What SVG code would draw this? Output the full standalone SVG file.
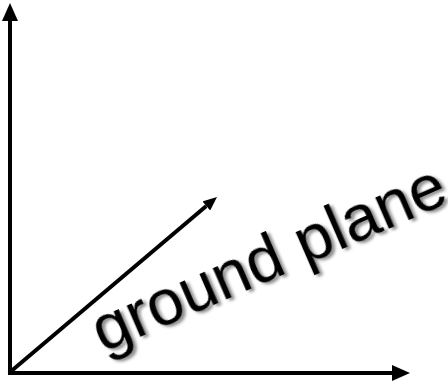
<svg xmlns="http://www.w3.org/2000/svg" width="448" height="382" viewBox="0 0 448 382">
<style>
.axis{stroke:#000;stroke-width:4;fill:none}
.lbl{font-family:"Liberation Sans",Arial,sans-serif;font-size:65px;fill:#000}
</style>
<defs>
<marker id="head" markerUnits="userSpaceOnUse" markerWidth="18" markerHeight="16" refX="0" refY="8" orient="auto">
<path d="M0,0 L18,8 L0,16 z" fill="#000"/>
</marker>
<marker id="headS" markerUnits="userSpaceOnUse" markerWidth="14" markerHeight="12" refX="0" refY="6" orient="auto">
<path d="M0,0 L14,6 L0,12 z" fill="#000"/>
</marker>
<filter id="shadow" x="-10%" y="-10%" width="120%" height="130%">
<feDropShadow dx="2.5" dy="3" stdDeviation="1.5" flood-color="#000" flood-opacity="0.45"/>
</filter>
</defs>
<g id="connectors">
<line class="axis" x1="10" y1="375" x2="10" y2="21" marker-end="url(#head)"/>
<line class="axis" x1="8" y1="373" x2="392" y2="373" marker-end="url(#head)"/>
<line class="axis" x1="9" y1="373" x2="206.3" y2="206" marker-end="url(#headS)"/>
</g>
<g id="label">
<text class="lbl" filter="url(#shadow)" transform="translate(103,353) rotate(-23.5)">ground plane</text>
</g>
</svg>
